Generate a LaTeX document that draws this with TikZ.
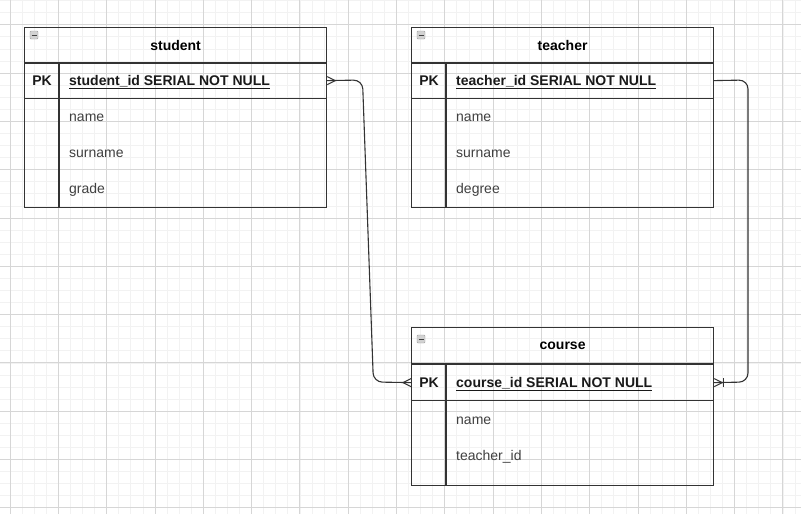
\documentclass[tikz,border=0pt]{standalone}
\usepackage{fontspec}
\setmainfont{Liberation Sans}
\usetikzlibrary{arrows.meta}

\definecolor{edge}{HTML}{333333}
\definecolor{gridmaj}{HTML}{D6D6D6}
\definecolor{gridmin}{HTML}{F2F2F2}

\tikzset{
  tbl/.style={draw=edge, line width=1.2pt, anchor=north west, minimum width=302pt, inner sep=0pt},
  hdr/.style={tbl, minimum height=36pt, font=\fontsize{14}{16}\selectfont\bfseries},
  pkrow/.style={tbl, minimum height=36pt},
  pk/.style={font=\fontsize{14}{16}\selectfont\bfseries, text=black!90, inner sep=0pt, text height=10pt, text depth=3pt},
  key/.style={pk, anchor=west},
  attr/.style={font=\fontsize{14}{16}\selectfont, text=black!75, anchor=west, inner sep=0pt, text height=10pt, text depth=3pt},
  icon/.style={fill=gray!35, draw=gray!75, rounded corners=1pt, minimum size=8pt, inner sep=0pt,
    path picture={\draw[black!75, line width=1pt] ([xshift=-2.5pt]path picture bounding box.center) -- ([xshift=2.5pt]path picture bounding box.center);}},
  link/.style={draw=edge, line width=1.1pt, rounded corners=9pt},
  foot/.style={draw=edge, line width=1pt}
}

\begin{document}
\begin{tikzpicture}[x=1pt,y=-1pt]
\useasboundingbox (0,0) rectangle (801,514);
\fill[white] (0,0) rectangle (801,514);

% grid
\foreach \k in {0,...,66} \draw[gridmin, line width=0.6pt] ({10+12.075*(\k-1)},0) -- ++(0,514);
\foreach \k in {0,...,43} \draw[gridmin, line width=0.6pt] (0,{24.7+12.075*(\k-2)}) -- ++(801,0);
\foreach \k in {0,...,16} \draw[gridmaj, line width=0.8pt] ({10+48.3*\k},0) -- ++(0,514);
\foreach \k in {0,...,10} \draw[gridmaj, line width=0.8pt] (0,{24.7+48.3*\k}) -- ++(801,0);

% student
\node[tbl, minimum height=180pt] (student) at (24,27) {};
\node[hdr] (student-h) at (24,27) {student};
\node[pkrow] (student-pk) at (24,62) {};
\draw[edge, line width=1.2pt] (59,62) -- (59,207);
\node[icon] (student-ic) at (34,35) {};
\node[pk] (student-pkl) at (42,81.5) {PK};
\node[key] (student-id) at (69,81.5) {\underline{student\_id SERIAL NOT NULL}};
\node[attr] (student-a1) at (69,118) {name};
\node[attr] (student-a2) at (69,154) {surname};
\node[attr] (student-a3) at (69,190) {grade};

% teacher
\node[tbl, minimum height=180pt] (teacher) at (411,27) {};
\node[hdr] (teacher-h) at (411,27) {teacher};
\node[pkrow] (teacher-pk) at (411,62) {};
\draw[edge, line width=1.2pt] (446,62) -- (446,207);
\node[icon] (teacher-ic) at (421,35) {};
\node[pk] (teacher-pkl) at (429,81.5) {PK};
\node[key] (teacher-id) at (456,81.5) {\underline{teacher\_id SERIAL NOT NULL}};
\node[attr] (teacher-a1) at (456,118) {name};
\node[attr] (teacher-a2) at (456,154) {surname};
\node[attr] (teacher-a3) at (456,190) {degree};

% course
\node[tbl, minimum height=158pt] (course) at (411,327) {};
\node[hdr] (course-h) at (411,327) {course};
\node[pkrow] (course-pk) at (411,364) {};
\draw[edge, line width=1.2pt] (446,364) -- (446,485);
\node[icon] (course-ic) at (421,339) {};
\node[pk] (course-pkl) at (429,383.5) {PK};
\node[key] (course-id) at (456,383.5) {\underline{course\_id SERIAL NOT NULL}};
\node[attr] (course-a1) at (456,421) {name};
\node[attr] (course-a2) at (456,457) {teacher\_id};

% relations
\draw[link] (student-pk.east) -- (362.5,80) -- (373.4,382) -- (course-pk.west);
\draw[foot] ([yshift=4pt]student-pk.east) -- ([xshift=8pt]student-pk.east) -- ([yshift=-4pt]student-pk.east);
\draw[foot] ([yshift=4pt]course-pk.west) -- ([xshift=-8pt]course-pk.west) -- ([yshift=-4pt]course-pk.west);

\draw[link] (teacher-pk.east) -- (748,80) -- (748,382) -- (course-pk.east);
\draw[foot] ([yshift=4pt]course-pk.east) -- ([xshift=8pt]course-pk.east) -- ([yshift=-4pt]course-pk.east);
\draw[foot] ([xshift=9pt,yshift=4.5pt]course-pk.east) -- ([xshift=9pt,yshift=-4.5pt]course-pk.east);
\end{tikzpicture}
\end{document}
